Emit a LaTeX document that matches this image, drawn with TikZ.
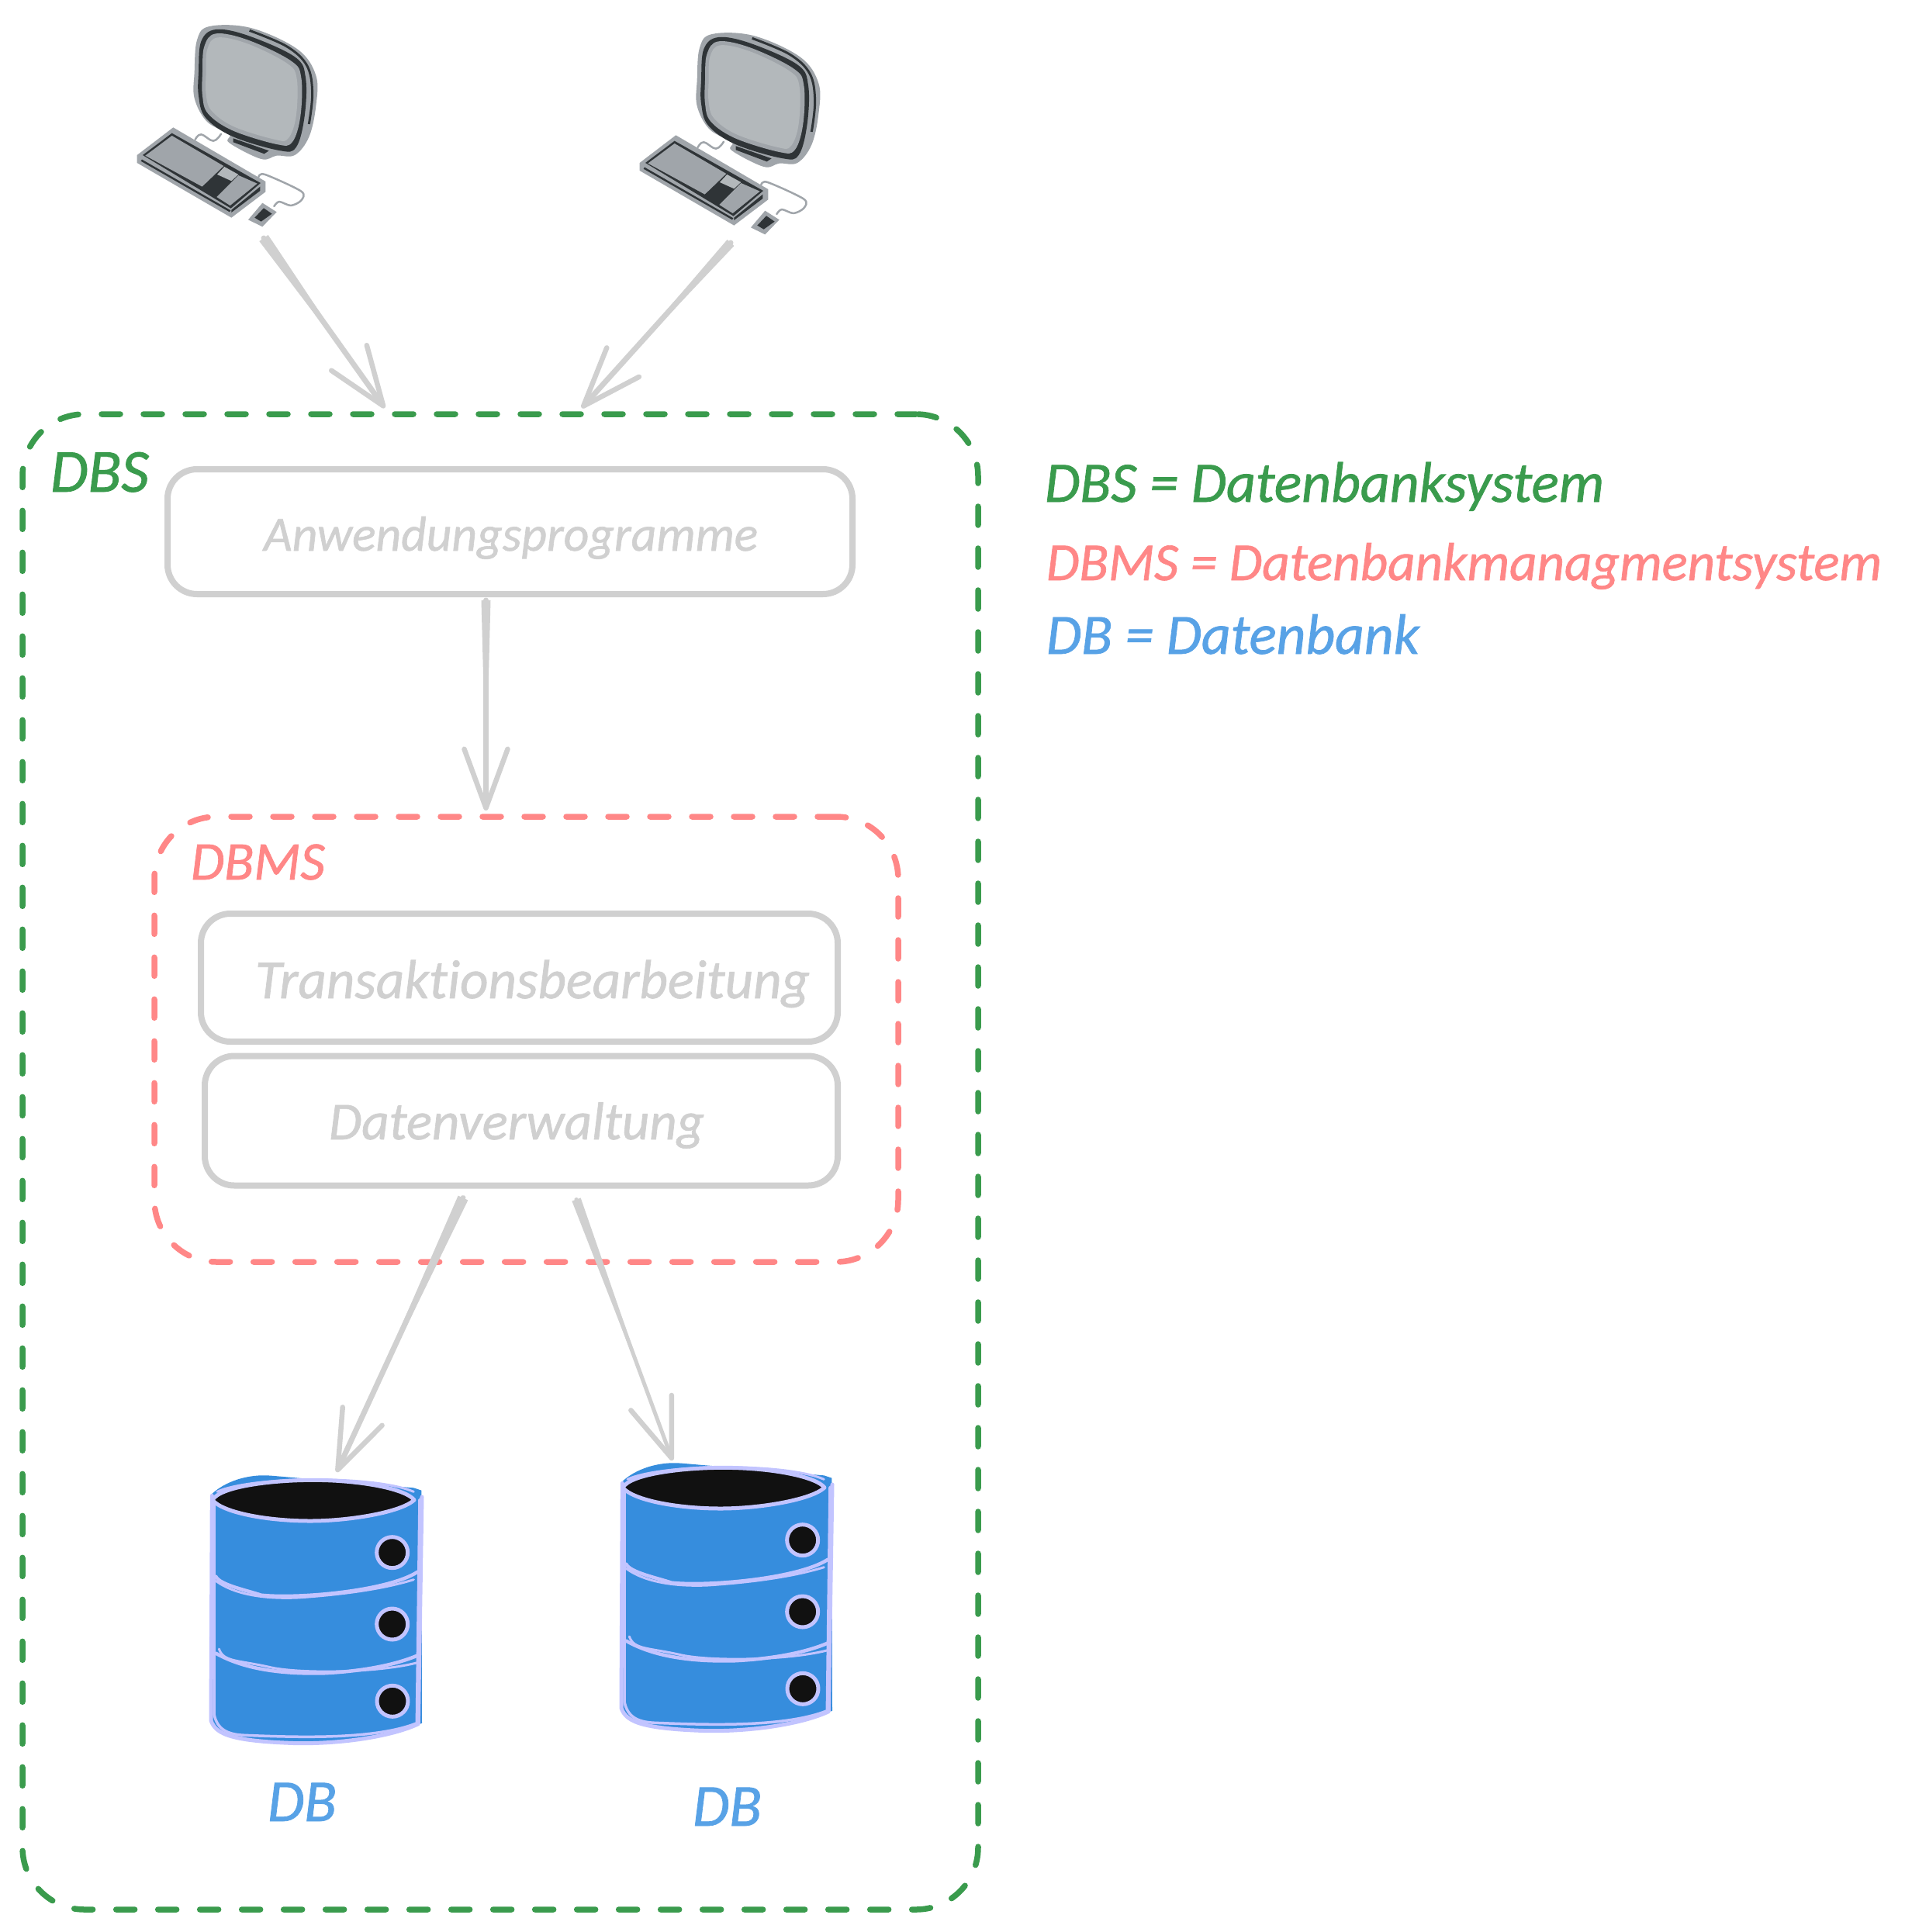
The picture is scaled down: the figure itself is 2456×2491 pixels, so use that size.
\documentclass[tikz,border=0pt]{standalone}
\usepackage{fontspec}
\usepackage{graphicx}
\setmainfont{Carlito}
\newfontfamily\handfont[FakeBold=1.0,Ligatures=NoCommon]{Carlito}
\usetikzlibrary{arrows.meta,calc}
\definecolor{cdbs}{HTML}{3A9B4D}
\definecolor{cdbms}{HTML}{FF8787}
\definecolor{cdb}{HTML}{58A2E6}
\definecolor{cgrey}{HTML}{D0D0D0}
\definecolor{cylblue}{HTML}{368DDD}
\definecolor{cylline}{HTML}{C2C4FF}
\definecolor{cylblack}{HTML}{111111}
\definecolor{pcmid}{HTML}{A0A5AA}
\definecolor{pcdark}{HTML}{2F3437}
\definecolor{pcscreen}{HTML}{B3B8BB}
\newcommand{\hw}[2]{\resizebox{#1pt}{!}{\fontsize{60}{70}\handfont\itshape #2}}
\newcommand{\taper}[3]{\fill[cgrey] ($(#1)!#3!90:(#2)$) -- ($(#1)!#3!-90:(#2)$) -- ($(#1)!.85!(#2)$) -- cycle;}
\tikzset{
  x=1pt,y=-1pt,
  txt/.style={anchor=base west,inner sep=0pt,outer sep=0pt},
  groupbox/.style={draw,line width=7.5pt,line cap=round,dash pattern=on 24pt off 30pt,rounded corners=80pt,inner sep=0pt,outer sep=0pt},
  greybox/.style={draw=cgrey,line width=8pt,rounded corners=38pt,inner sep=0pt,outer sep=0pt},
  ghost/.style={inner sep=0pt,outer sep=0pt},
  conn/.style={draw=cgrey,line width=7pt,line cap=round,line join=round,
    -{Straight Barb[length=76pt,width=56pt,line width=6.5pt,round]}},
  computer/.pic={
    \begin{scope}[scale=1/3,line join=round]
      \fill[pcmid] plot[smooth cycle,tension=.6] coordinates {(302,250)(312,125)(360,72)(520,78)(700,160)(772,262)(772,380)(745,500)(690,570)(620,572)(560,585)(436,522)(436,490)(350,440)(302,350)};
      \fill[pcdark] plot[smooth cycle,tension=.6] coordinates {(318,250)(328,130)(385,84)(510,108)(690,190)(732,270)(728,420)(695,540)(630,552)(450,498)(345,425)(318,340)};
      \draw[pcdark,line width=3pt] plot[smooth,tension=.6] coordinates {(515,88)(660,150)(738,225)(758,330)(745,450)};
      \fill[pcmid] plot[smooth cycle,tension=.6] coordinates {(333,250)(340,150)(385,100)(510,125)(675,205)(715,270)(712,420)(680,520)(620,528)(450,475)(355,410)(333,340)};
      \fill[pcscreen] plot[smooth cycle,tension=.6] coordinates {(347,250)(352,160)(392,115)(510,140)(660,215)(698,275)(695,420)(665,505)(615,510)(455,460)(368,398)(347,335)};
      \fill[pcdark] (452,505)--(590,553)--(572,565)--(452,520)--cycle;
      \fill[pcmid] (80,570)--(220,463)--(577,672)--(577,712)--(445,812)--(80,600)--cycle;
      \fill[pcdark] (102,570)--(215,485)--(558,678)--(443,776)--cycle;
      \fill[pcmid] (112,572)--(215,495)--(415,612)--(332,692)--cycle;
      \fill[pcscreen] (418,615)--(472,645)--(445,670)--(390,645)--cycle;
      \fill[pcdark] (332,692)--(388,648)--(443,678)--(385,730)--cycle;
      \fill[pcmid] (472,648)--(545,680)--(440,765)--(388,732)--cycle;
      \draw[pcdark,line width=2.5pt] (97,590)--(440,787);
      \fill[pcdark] (445,782)--(556,692)--(556,708)--(445,792)--cycle;
      \draw[pcmid,line width=2.5pt,line cap=round] plot[smooth,tension=.7] coordinates {(305,510)(328,490)(375,515)(405,488)};
      \draw[pcmid,line width=2.5pt,line cap=round] plot[smooth,tension=.5] coordinates {(550,655)(575,645)(715,710)(715,745)(675,765)(630,750)(610,768)};
      \fill[pcmid] (510,820)--(565,755)--(620,790)--(565,847)--cycle;
      \fill[pcdark] (535,812)--(570,775)--(602,797)--(560,827)--cycle;
    \end{scope}
  },
  dbcyl/.pic={
    \begin{scope}[scale=1/3,line cap=round,line join=round]
      \fill[cylblue] (68,200) .. controls (120,150) and (210,120) .. (300,128) -- (850,175) -- (880,185) -- (882,1085) .. controls (720,1160) and (300,1190) .. (150,1140) .. controls (90,1120) and (70,1090) .. (68,1060) -- cycle;
      \filldraw[fill=cylblack,draw=cylline,line width=5pt] (72,222) .. controls (100,170) and (300,145) .. (460,145) .. controls (650,145) and (820,180) .. (852,222) .. controls (800,270) and (600,303) .. (450,303) .. controls (280,303) and (110,270) .. (72,222) -- cycle;
      \draw[cylline,line width=3pt] (90,190) .. controls (220,130) and (700,125) .. (850,190);
      \draw[cylline,line width=5pt] (70,205) -- (66,1075) .. controls (85,1130) and (150,1155) .. (400,1163) .. controls (600,1165) and (780,1130) .. (868,1088) -- (882,210);
      \draw[cylline,line width=3.5pt] (78,240) -- (78,1050) .. controls (90,1110) and (130,1130) .. (200,1132) .. controls (400,1140) and (700,1150) .. (862,1085) -- (873,220);
      \draw[cylline,line width=4.5pt] (85,518) .. controls (100,550) and (200,570) .. (260,590) .. controls (400,605) and (750,575) .. (865,500);
      \draw[cylline,line width=3pt] (85,535) .. controls (160,590) and (280,605) .. (400,600) .. controls (550,590) and (720,570) .. (850,530);
      \draw[cylline,line width=4.5pt] (85,815) .. controls (200,880) and (350,895) .. (500,892) .. controls (650,885) and (780,860) .. (868,822);
      \draw[cylline,line width=3pt] (97,798) .. controls (115,850) and (170,840) .. (300,870) .. controls (420,895) and (720,890) .. (868,850);
      \filldraw[fill=cylblack,draw=cylline,line width=5pt] (767,425) circle[radius=60];
      \filldraw[fill=cylblack,draw=cylline,line width=5pt] (767,702) circle[radius=60];
      \filldraw[fill=cylblack,draw=cylline,line width=5pt] (768,1000) circle[radius=60];
    \end{scope}
  }
}
\begin{document}
\begin{tikzpicture}
\useasboundingbox (0,0) rectangle (2456,2491);
\pic at (150,10) {computer};
\pic at (798,20) {computer};
\pic at (250,1860) {dbcyl};
\pic at (779,1844) {dbcyl};
\node[ghost,minimum width=231pt,minimum height=260pt] (pc1) at (292,162) {};
\node[ghost,minimum width=231pt,minimum height=260pt] (pc2) at (940,172) {};
\node[ghost,minimum width=270pt,minimum height=350pt] (db1) at (408,2075) {};
\node[ghost,minimum width=270pt,minimum height=350pt] (db2) at (937,2059) {};
\node[groupbox,draw=cdbs,minimum width=1232pt,minimum height=1928pt] (dbs) at (645,1498) {};
\node[groupbox,draw=cdbms,minimum width=959pt,minimum height=574pt] (dbms) at (678.5,1340) {};
\node[greybox,minimum width=883pt,minimum height=161pt] (app) at (657.5,685.5) {};
\node[greybox,minimum width=821pt,minimum height=165pt] (tx) at (669.5,1260.5) {};
\node[greybox,minimum width=816pt,minimum height=167pt] (dm) at (672,1445) {};
\node[txt,text=cdbs] (tdbs) at (65,634) {\hw{127}{DBS}};
\node[txt,text=cdbms] (tdbms) at (246,1134) {\hw{173}{DBMS}};
\node[txt,text=cgrey] (tapp) at (340,710) {\hw{637}{Anwendungsprogramme}};
\node[txt,text=cgrey] (ttx) at (329,1287) {\hw{715}{Transaktionsbearbeitung}};
\node[txt,text=cgrey] (tdm) at (424,1469) {\hw{484}{Datenverwaltung}};
\node[txt,text=cdb] (tdb1) at (345,2348) {\hw{89}{DB}};
\node[txt,text=cdb] (tdb2) at (893,2354) {\hw{89}{DB}};
\node[txt,text=cdbs] (l1) at (1347,647) {\hw{721}{DBS = Datenbanksystem}};
\node[txt,text=cdbms] (l2) at (1349,748) {\hw{1077}{DBMS = Datenbankmanagmentsystem}};
\node[txt,text=cdb] (l3) at (1349,843) {\hw{481}{DB = Datenbank}};
\coordinate (s1) at ([xshift=48pt,yshift=-15pt]pc1.south);
\coordinate (e1) at ([xshift=-149pt,yshift=8pt]dbs.north);
\coordinate (s2) at ([xshift=2pt,yshift=-11pt]pc2.south);
\coordinate (e2) at ([xshift=105pt,yshift=8pt]dbs.north);
\coordinate (s3) at ([xshift=-31pt,yshift=-8pt]app.south);
\coordinate (e3) at ([xshift=-52pt,yshift=8pt]dbms.north);
\coordinate (s4) at ([xshift=-75pt,yshift=-16pt]dm.south);
\coordinate (e4) at ([xshift=26pt,yshift=2pt]db1.north);
\coordinate (s5) at ([xshift=71pt,yshift=-18pt]dm.south);
\coordinate (e5) at ([xshift=-70pt,yshift=1pt]db2.north);
\taper{s1}{e1}{7pt}
\taper{s2}{e2}{6pt}
\taper{s3}{e3}{6pt}
\taper{s4}{e4}{7pt}
\taper{s5}{e5}{6pt}
\draw[conn] (s1) -- (e1);
\draw[conn] (s2) -- (e2);
\draw[conn] (s3) -- (e3);
\draw[conn] (s4) -- (e4);
\draw[conn,line width=5pt] (s5) -- (e5);
\end{tikzpicture}
\end{document}
